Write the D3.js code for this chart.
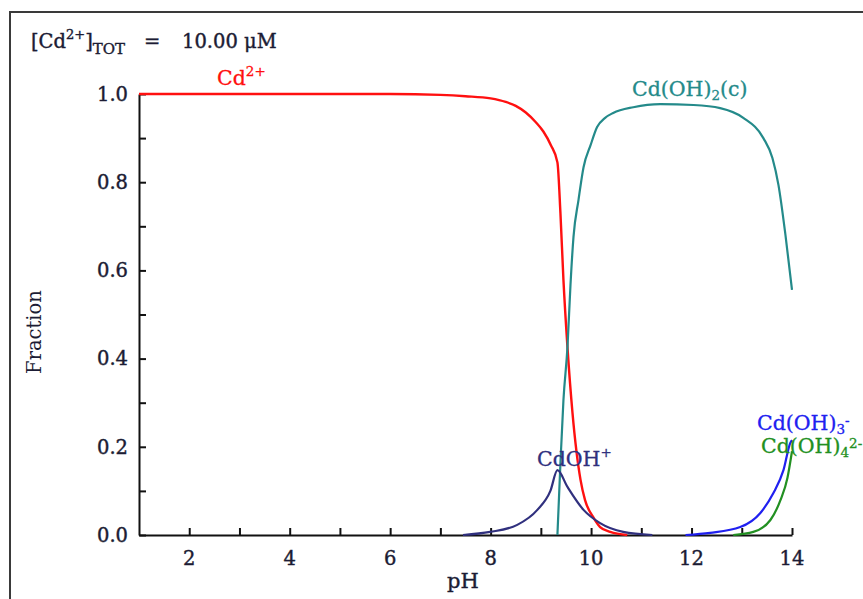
<!DOCTYPE html>
<html>
<head>
<meta charset="utf-8">
<script src="https://cdn.jsdelivr.net/npm/d3@7"></script>
<style>
  body { margin: 0; background: #fff; }
  svg text { font-family: "DejaVu Serif", serif; }
</style>
</head>
<body>
<svg id="chart" width="863" height="599"></svg>
<script>
const WIDTH = 863;
const HEIGHT = 599;

// species fractions (pH, fraction)
const cdPH = [1, 6, 7, 7.5, 8, 8.3, 8.5, 8.7, 8.9, 9.05, 9.2, 9.33, 9.39, 9.45, 9.53, 9.63, 9.79, 9.88, 10.04, 10.18, 10.38, 10.72];
const cdFr = [1, 1, 0.998, 0.995, 0.99, 0.982, 0.973, 0.958, 0.936, 0.915, 0.884, 0.845, 0.73, 0.578, 0.426, 0.277, 0.125, 0.079, 0.041, 0.018, 0.007, 0];

const solidPH = [9.33, 9.39, 9.45, 9.53, 9.59, 9.65, 9.75, 9.85, 9.99, 10.12, 10.28, 10.44, 10.84, 11.38, 12.04, 12.57, 13.03, 13.43, 13.61, 13.73, 13.87, 14.0];
const solidFr = [0, 0.163, 0.306, 0.426, 0.567, 0.676, 0.76, 0.834, 0.884, 0.925, 0.946, 0.957, 0.970, 0.977, 0.975, 0.968, 0.946, 0.90, 0.855, 0.794, 0.68, 0.556];

const ohPH = [7.45, 7.99, 8.53, 8.93, 9.19, 9.33, 9.53, 9.85, 10.18, 10.64, 11.22];
const ohFr = [0, 0.007, 0.023, 0.057, 0.10, 0.147, 0.109, 0.057, 0.027, 0.007, 0];

const oh3PH = [11.88, 12.37, 12.97, 13.37, 13.63, 13.83, 13.97, 14.0];
const oh3Fr = [0, 0.005, 0.018, 0.05, 0.095, 0.147, 0.21, 0.215];

const oh4PH = [12.83, 13.23, 13.57, 13.77, 13.91, 14.0];
const oh4Fr = [0, 0.007, 0.034, 0.079, 0.13, 0.19];

const xTicks = [2, 3, 4, 5, 6, 7, 8, 9, 10, 11, 12, 13, 14];
const xLabels = [2, 4, 6, 8, 10, 12, 14];
const yTicks = [0, 0.1, 0.2, 0.3, 0.4, 0.5, 0.6, 0.7, 0.8, 0.9, 1.0];
const yLabels = [0, 0.2, 0.4, 0.6, 0.8, 1.0];

const svg = d3.select('#chart');
const margin = { top: 94, right: 71, bottom: 64, left: 139 };
const width = WIDTH - margin.left - margin.right;
const height = HEIGHT - margin.top - margin.bottom;
const TXT = '#1c1c34';

// outer frame (runs off the right and bottom edges)
svg.append('rect')
  .attr('x', 10).attr('y', 12)
  .attr('width', 900).attr('height', 700)
  .attr('fill', 'none').attr('stroke', '#3a3a3a').attr('stroke-width', 2);

const chart = svg.append('g')
  .attr('transform', `translate(${margin.left},${margin.top})`);

const x = d3.scaleLinear().domain([1, 14]).range([0, width]);
const y = d3.scaleLinear().domain([0, 1]).range([height, 0]);

// axes: ticks point inward
const xAxis = chart.append('g')
  .attr('transform', `translate(0,${height})`)
  .call(d3.axisBottom(x).tickValues(xTicks).tickSizeInner(-7).tickSizeOuter(0).tickFormat(''));
const yAxis = chart.append('g')
  .call(d3.axisLeft(y).tickValues(yTicks).tickSizeInner(-7).tickSizeOuter(0).tickFormat(''));
[xAxis, yAxis].forEach(a => {
  a.select('.domain').attr('stroke', '#111').attr('stroke-width', 2);
  a.selectAll('.tick line').attr('stroke', '#111').attr('stroke-width', 2);
});

chart.append('g').selectAll('text')
  .data(xLabels).enter().append('text')
  .attr('x', d => x(d)).attr('y', height + 30)
  .attr('text-anchor', 'middle')
  .attr('font-size', 19.5).attr('fill', TXT)
  .attr('stroke', TXT).attr('stroke-width', 0.4)
  .text(d => d);

chart.append('g').selectAll('text')
  .data(yLabels).enter().append('text')
  .attr('x', -11).attr('y', d => y(d)).attr('dy', '0.35em')
  .attr('text-anchor', 'end')
  .attr('font-size', 19.5).attr('fill', TXT)
  .attr('stroke', TXT).attr('stroke-width', 0.4)
  .text(d => d.toFixed(1));

// curves
const series = [
  { ph: cdPH, fr: cdFr, color: '#ff1010', w: 2.4 },
  { ph: solidPH, fr: solidFr, color: '#248a8a', w: 2.2 },
  { ph: ohPH, fr: ohFr, color: '#30307e', w: 2.2 },
  { ph: oh3PH, fr: oh3Fr, color: '#2020f0', w: 2.2 },
  { ph: oh4PH, fr: oh4Fr, color: '#229022', w: 2.2 }
];
const line = d3.line()
  .x(d => x(d[0]))
  .y(d => y(d[1]))
  .curve(d3.curveMonotoneX);

series.forEach(s => {
  chart.append('path')
    .datum(s.ph.map((p, i) => [p, s.fr[i]]))
    .attr('fill', 'none')
    .attr('stroke', s.color)
    .attr('stroke-width', s.w)
    .attr('stroke-linejoin', 'round')
    .attr('d', line);
});

// species labels
function label(px, py, color, parts) {
  const t = svg.append('text')
    .attr('x', px).attr('y', py)
    .attr('font-size', 20.5).attr('fill', color)
    .attr('stroke', color).attr('stroke-width', 0.3);
  parts.forEach(p => {
    const ts = t.append('tspan').text(p[0]);
    if (p[1] === 'sup') ts.attr('font-size', 13.5).attr('dy', -9);
    if (p[1] === 'sub') ts.attr('font-size', 13.5).attr('dy', 4);
    if (p[1] === 'back') ts.attr('dy', p[2]);
  });
  return t;
}
label(217, 85, '#ff1010', [['Cd'], ['2+', 'sup']]);
label(632, 96, '#248a8a', [['Cd(OH)'], ['2', 'sub'], ['(c)', 'back', -4]]);
label(537, 466, '#30307e', [['CdOH'], ['+', 'sup']]);
label(757, 430, '#2020f0', [['Cd(OH)'], ['3', 'sub'], ['-', 'sup']]);
label(761, 453, '#229022', [['Cd(OH)'], ['4', 'sub'], ['2-', 'sup']]);

// title line
const title = svg.append('text')
  .attr('x', 31).attr('y', 48)
  .attr('font-size', 19.5).attr('fill', TXT)
  .attr('stroke', TXT).attr('stroke-width', 0.4);
title.append('tspan').text('[Cd');
title.append('tspan').text('2+').attr('font-size', 13).attr('dy', -9);
title.append('tspan').text(']').attr('dy', 9);
title.append('tspan').text('TOT').attr('font-size', 15).attr('dy', 6);
title.append('tspan').text('=').attr('dy', -6).attr('x', 144);
title.append('tspan').text('10.00 μM').attr('x', 182);

// axis titles
svg.append('text')
  .attr('x', 463).attr('y', 588)
  .attr('text-anchor', 'middle')
  .attr('font-size', 21).attr('fill', TXT)
  .attr('stroke', TXT).attr('stroke-width', 0.4)
  .text('pH');

svg.append('text')
  .attr('transform', 'translate(41,332) rotate(-90)')
  .attr('text-anchor', 'middle')
  .attr('font-size', 19.5).attr('fill', TXT)
  .text('Fraction');
</script>
</body>
</html>
